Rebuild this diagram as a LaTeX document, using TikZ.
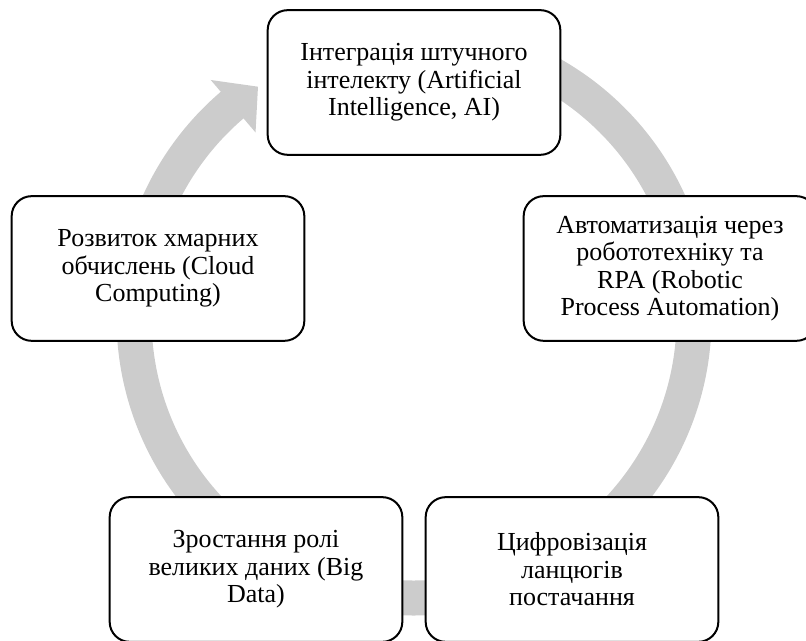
\documentclass[tikz,border=0pt]{standalone}
\usepackage{fontspec}
\setmainfont{Liberation Serif}
\definecolor{cyclegray}{RGB}{204,204,204}

\begin{document}
\begin{tikzpicture}[x=0.75pt,y=0.75pt,
    stage/.style={draw=black,line width=1.5pt,fill=white,rounded corners=15pt,
        minimum width=219.5pt,minimum height=108.5pt,align=center,
        font=\fontsize{19.5}{20.6}\selectfont},
    ring/.style={draw=cyclegray,line width=26.25pt}]
    \clip (0,0) rectangle (806,641);

    % Gray cycle arrow behind the boxes
    \begin{scope}[shift={(414,323)}]
        \draw[ring] (95:280) arc[start angle=95,end angle=-230,radius=280];
        \fill[cyclegray] (130.5:313) -- (124:279) -- (130.5:244) -- cycle;
    \end{scope}

    % Stages
    \node[stage] (ai) at (414,558.5) {Інтеграція штучного\\інтелекту (Artificial\\Intelligence, AI)};
    \node[stage] (rpa) at (670,372.5) {Автоматизація через\\робототехніку та\\RPA (Robotic\\Process Automation)};
    \node[stage] (supply) at (572,71.5) {Цифровізація\\ланцюгів\\постачання};
    \node[stage] (bigdata) at (256,71.5) {Зростання ролі\\великих даних (Big\\Data)};
    \node[stage] (cloud) at (158,372.5) {Розвиток хмарних\\обчислень (Cloud\\Computing)};
\end{tikzpicture}
\end{document}
